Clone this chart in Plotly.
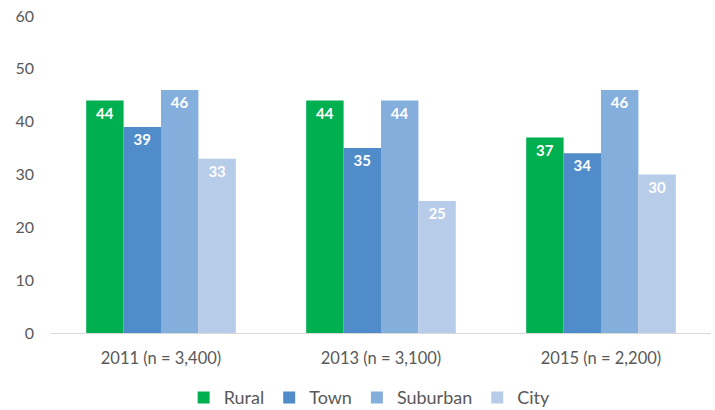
import plotly.graph_objects as go

categories = ["2011 (n = 3,400)", "2013 (n = 3,100)", "2015 (n = 2,200)"]
rural = [44, 44, 37]
town = [39, 35, 34]
suburban = [46, 44, 46]
city = [33, 25, 30]

series = [
    ("Rural", rural, "#00B050"),
    ("Town", town, "#4F8CC9"),
    ("Suburban", suburban, "#84AEDC"),
    ("City", city, "#B7CCE8"),
]

FONT = "Lato"

fig = go.Figure()
for name, vals, color in series:
    fig.add_trace(go.Bar(
        name=name, x=categories, y=vals,
        marker=dict(color=color, line=dict(width=0)),
        text=[str(v) for v in vals],
        textposition="inside", insidetextanchor="end",
        textfont=dict(color="white", size=15, family=FONT),
        texttemplate="<b>%{text}</b>",
        cliponaxis=False,
    ))

fig.update_layout(
    width=715, height=410,
    margin=dict(l=51, r=4, t=16, b=77, autoexpand=False),
    barmode="group", bargap=0.32, bargroupgap=0,
    plot_bgcolor="white", paper_bgcolor="white",
    font=dict(family=FONT, size=14, color="#595959"),
    showlegend=True,
    legend=dict(orientation="h", x=0.517, xanchor="center", xref="container",
                y=0.03, yanchor="middle", yref="container",
                font=dict(size=18, color="#595959", family=FONT),
                traceorder="normal"),
    xaxis=dict(showgrid=False, showline=True, linecolor="#D9D9D9", linewidth=1,
               ticks="", tickfont=dict(size=16.5, color="#595959", family=FONT),
               ticklabelstandoff=10),
    yaxis=dict(range=[0, 60], dtick=10, showgrid=False, zeroline=False,
               showline=False, ticks="", tickfont=dict(size=16, color="#595959", family=FONT),
               ticklabelstandoff=16),
)

fig.write_html("out.html", config={"displayModeBar": False},
               post_script="document.body.style.margin='0';")
